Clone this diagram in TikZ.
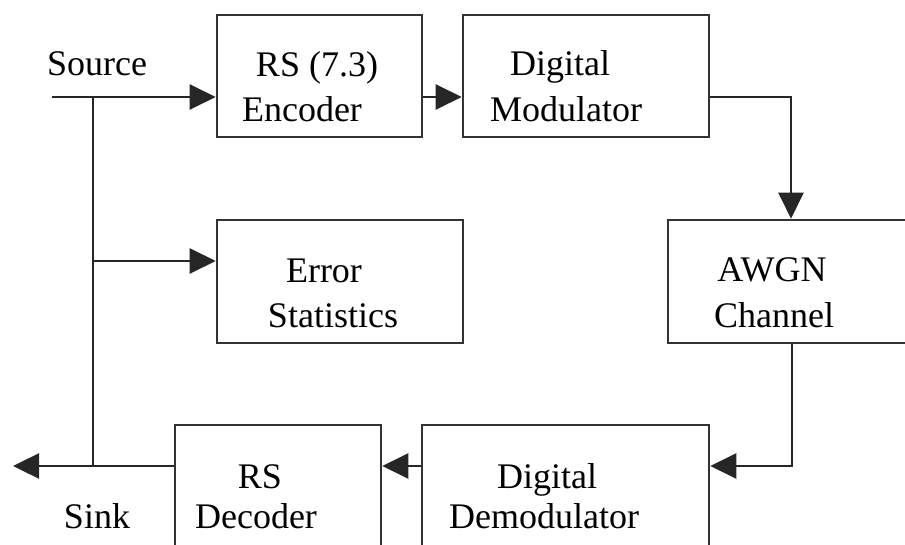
\documentclass[tikz,border=0pt]{standalone}
\usepackage{fontspec}
\setmainfont{Liberation Serif}
\usetikzlibrary{arrows.meta}
\begin{document}
\begin{tikzpicture}[x=1pt,y=-1pt,
  blk/.style={draw=black!80,line width=2.6pt,rectangle,inner sep=0pt},
  lbl/.style={anchor=base,inner sep=0pt,font=\fontsize{36}{40}\selectfont},
  wire/.style={draw=black!85,line width=2.4pt},
  arr/.style={wire,-{Triangle[length=26pt,width=25pt]}}]
\useasboundingbox (0,0) rectangle (905,545);
\clip (0,0) rectangle (905,545);
% blocks
\node[blk,minimum width=205pt,minimum height=122pt] (enc) at (319.5,76) {};
\node[blk,minimum width=246pt,minimum height=122pt] (mod) at (586,76) {};
\node[blk,minimum width=246pt,minimum height=123pt] (err) at (340,281.5) {};
\node[blk,minimum width=282pt,minimum height=123pt] (awgn) at (809,281.5) {};
\node[blk,minimum width=206pt,minimum height=165pt] (dec) at (278,507.5) {};
\node[blk,minimum width=287pt,minimum height=165pt] (dem) at (565.5,507.5) {};
% labels
\node[lbl] (tsrc) at (97,76) {Source};
\node[lbl] (tenc1) at (317,77) {RS (7.3)};
\node[lbl] (tenc2) at (302,122) {Encoder};
\node[lbl] (tmod1) at (560,76) {Digital};
\node[lbl] (tmod2) at (566,122) {Modulator};
\node[lbl] (terr1) at (324,283) {Error};
\node[lbl] (terr2) at (333,327) {Statistics};
\node[lbl] (tawgn1) at (772,282) {AWGN};
\node[lbl] (tawgn2) at (774,327) {Channel};
\node[lbl] (tdec1) at (260,488) {RS};
\node[lbl] (tdec2) at (256,528) {Decoder};
\node[lbl] (tsink) at (97,528) {Sink};
\node[lbl] (tdem1) at (547,488) {Digital};
\node[lbl] (tdem2) at (544,528) {Demodulator};
% connector points
\coordinate (src) at (52,97);
\coordinate (j1) at (93,97);
\coordinate (j2) at (93,466);
\coordinate (j3) at (93,261);
\coordinate (k1) at (791,97);
\coordinate (k2) at (792,466);
\coordinate (snk) at (13,466);
% connectors
\draw[arr] (src) -- (src -| enc.west);
\draw[arr] (enc.east |- src) -- (mod.west |- src);
\draw[arr] (mod.east |- k1) -- (k1) -- (k1 |- awgn.north);
\draw[arr] (k2 |- awgn.south) -- (k2) -- (k2 -| dem.east);
\draw[arr] (dem.west |- k2) -- (dec.east |- k2);
\draw[arr] (dec.west |- k2) -- (snk);
\draw[wire] (j1) -- (j2);
\draw[arr] (j3) -- (j3 -| err.west);
\end{tikzpicture}
\end{document}
